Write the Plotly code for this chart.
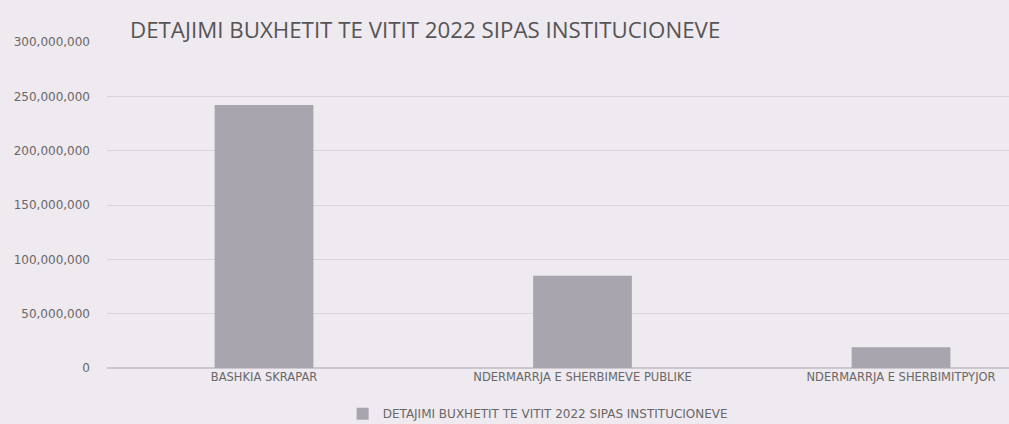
import plotly.graph_objects as go

categories = ["BASHKIA SKRAPAR", "NDERMARRJA E SHERBIMEVE PUBLIKE", "NDERMARRJA E SHERBIMITPYJOR"]
values = [242000000, 85000000, 19000000]
series_name = "DETAJIMI BUXHETIT TE VITIT 2022 SIPAS INSTITUCIONEVE"
title_text = "DETAJIMI BUXHETIT TE VITIT 2022 SIPAS INSTITUCIONEVE"
y_ticks = [0, 50000000, 100000000, 150000000, 200000000, 250000000, 300000000]

W, H = 1009, 424
L, R, T, B = 107, 0, 42, 56
BG = "#efe9f0"

fig = go.Figure()
fig.add_trace(go.Bar(
    x=categories, y=values, name=series_name,
    marker=dict(color="#a8a5ae", line=dict(width=0)),
    width=0.31, showlegend=True,
))

fig.update_layout(
    width=W, height=H,
    margin=dict(l=L, r=R, t=T, b=B, autoexpand=False),
    paper_bgcolor=BG,
    plot_bgcolor=BG,
    font=dict(family="DejaVu Sans, sans-serif", color="#686868"),
    title=dict(text=title_text, x=130 / W, xanchor="left", xref="container",
               y=1 - 30 / H, yref="container", yanchor="middle",
               font=dict(family="Open Sans, sans-serif", size=22.3, color="#555555")),
    xaxis=dict(type="category", range=[-0.493, 2.339], showgrid=False, showline=False,
               ticks="", tickfont=dict(size=11.5, color="#686868"), fixedrange=True,
               automargin=False),
    yaxis=dict(range=[0, 300000000], tickvals=y_ticks, tickformat=",",
               showgrid=True, gridcolor="#d8d4da", gridwidth=1,
               zeroline=True, zerolinecolor="#cbc7ce", showline=False,
               ticks="", ticklabelstandoff=16, fixedrange=True, automargin=False,
               tickfont=dict(size=12, color="#686868")),
    legend=dict(orientation="h", x=0.478, xanchor="center", y=-0.14, yanchor="middle",
                font=dict(size=12, color="#686868"), bgcolor="rgba(0,0,0,0)",
                itemwidth=30),
    bargap=0.69,
)

fig.write_html("out.html", config={"displayModeBar": False},
               post_script="document.body.style.margin='0';document.body.style.background='" + BG + "';")
